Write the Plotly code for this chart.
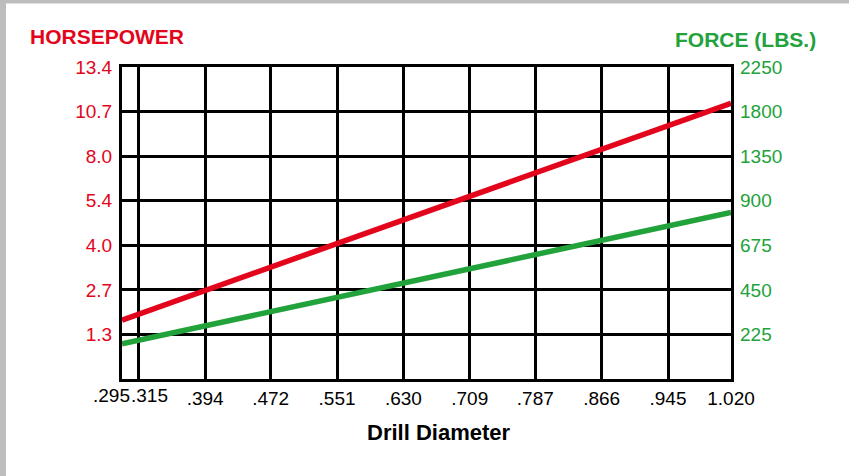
import numpy as np
import plotly.graph_objects as go

# Drill diameter grid (inches)
diameter_ticks = [0.295, 0.315, 0.394, 0.472, 0.551, 0.630, 0.709, 0.787, 0.866, 0.945, 1.020]
diameter_labels = [".295", ".315", ".394", ".472", ".551", ".630", ".709", ".787", ".866", ".945", "1.020"]

# Horsepower and force scales (gridlines are evenly spaced, values are not)
hp_ticks = [0.0, 1.3, 2.7, 4.0, 5.4, 8.0, 10.7, 13.4]
hp_labels = ["", "1.3", "2.7", "4.0", "5.4", "8.0", "10.7", "13.4"]
force_ticks = [0, 225, 450, 675, 900, 1350, 1800, 2250]
force_labels = ["", "225", "450", "675", "900", "1350", "1800", "2250"]

# Series
diameter = [0.295, 1.020]
horsepower = [1.75, 11.2]
force_lbs = [178, 841]

RED = "#e3051b"
GREEN = "#22a23a"
NARROW = "Liberation Sans Narrow, Liberation Sans, Arial, sans-serif"
BOLD = "Liberation Sans, Arial, Helvetica, sans-serif"
TICK_SIZE = 19


def to_grid(values, ticks):
    """Map values onto the evenly spaced grid positions of a stepped scale."""
    return np.interp(values, ticks, np.arange(len(ticks)))


W, H = 849, 476
L, R, T, B = 122, 118, 67, 97
PW, PH = W - L - R, H - T - B


def px_x(px):
    return (px - L) / PW


def px_y(py):
    return 1 - (py - T) / PH


fig = go.Figure()
fig.add_trace(go.Scatter(
    x=diameter, y=to_grid(horsepower, hp_ticks), mode="lines",
    line=dict(color=RED, width=5.5), yaxis="y", showlegend=False,
))
fig.add_trace(go.Scatter(
    x=diameter, y=to_grid(force_lbs, force_ticks), mode="lines",
    line=dict(color=GREEN, width=5.5), yaxis="y2", showlegend=False,
))

grid_pos = list(range(len(hp_ticks)))

fig.update_layout(
    width=W, height=H,
    margin=dict(l=L, r=R, t=T, b=B, pad=0),
    paper_bgcolor="white", plot_bgcolor="white",
    xaxis=dict(
        range=[diameter_ticks[0], diameter_ticks[-1]],
        tickvals=diameter_ticks,
        ticktext=["", ""] + diameter_labels[2:],
        showgrid=True, gridcolor="black", gridwidth=2.5,
        showline=True, linecolor="black", linewidth=3, mirror=True,
        zeroline=False, ticks="", ticklabelstandoff=0,
        tickfont=dict(family=NARROW, size=TICK_SIZE, color="black"),
    ),
    yaxis=dict(
        range=[0, 7], tickvals=grid_pos, ticktext=hp_labels,
        showgrid=True, gridcolor="black", gridwidth=2.5,
        showline=True, linecolor="black", linewidth=3, mirror=True,
        zeroline=False, ticks="", ticklabelstandoff=3,
        tickfont=dict(family=NARROW, size=TICK_SIZE, color=RED),
    ),
    yaxis2=dict(
        range=[0, 7], tickvals=grid_pos, ticktext=force_labels,
        overlaying="y", side="right", showgrid=False,
        zeroline=False, ticks="", ticklabelstandoff=8,
        tickfont=dict(family=NARROW, size=TICK_SIZE, color=GREEN),
    ),
    shapes=[
        dict(type="rect", xref="paper", yref="paper", layer="above",
             x0=px_x(0), x1=px_x(6), y0=px_y(H), y1=px_y(0),
             fillcolor="#bdbdbd", line=dict(width=0)),
        dict(type="rect", xref="paper", yref="paper", layer="above",
             x0=px_x(0), x1=px_x(W), y0=px_y(3.5), y1=px_y(0),
             fillcolor="#bdbdbd", line=dict(width=0)),
    ],
    annotations=[
        dict(text="<b>HORSEPOWER</b>", xref="paper", yref="paper",
             x=px_x(28), y=px_y(37), xanchor="left", yanchor="middle",
             showarrow=False, font=dict(family=BOLD, size=21, color=RED)),
        dict(text="<b>FORCE (LBS.)</b>", xref="paper", yref="paper",
             x=px_x(818), y=px_y(39), xanchor="right", yanchor="middle",
             showarrow=False, font=dict(family=BOLD, size=21, color=GREEN)),
        dict(text="<b>Drill Diameter</b>", xref="paper", yref="paper",
             x=px_x(438), y=px_y(432), xanchor="center", yanchor="middle",
             showarrow=False, font=dict(family=BOLD, size=22, color="black")),
        dict(text=diameter_labels[0], x=diameter_ticks[0], y=0, yref="y",
             xanchor="center", yanchor="top", xshift=-11, yshift=-4,
             showarrow=False, font=dict(family=NARROW, size=TICK_SIZE, color="black")),
        dict(text=diameter_labels[1], x=diameter_ticks[1], y=0, yref="y",
             xanchor="center", yanchor="top", xshift=11, yshift=-4,
             showarrow=False, font=dict(family=NARROW, size=TICK_SIZE, color="black")),
    ],
)

fig.write_html("out.html")
